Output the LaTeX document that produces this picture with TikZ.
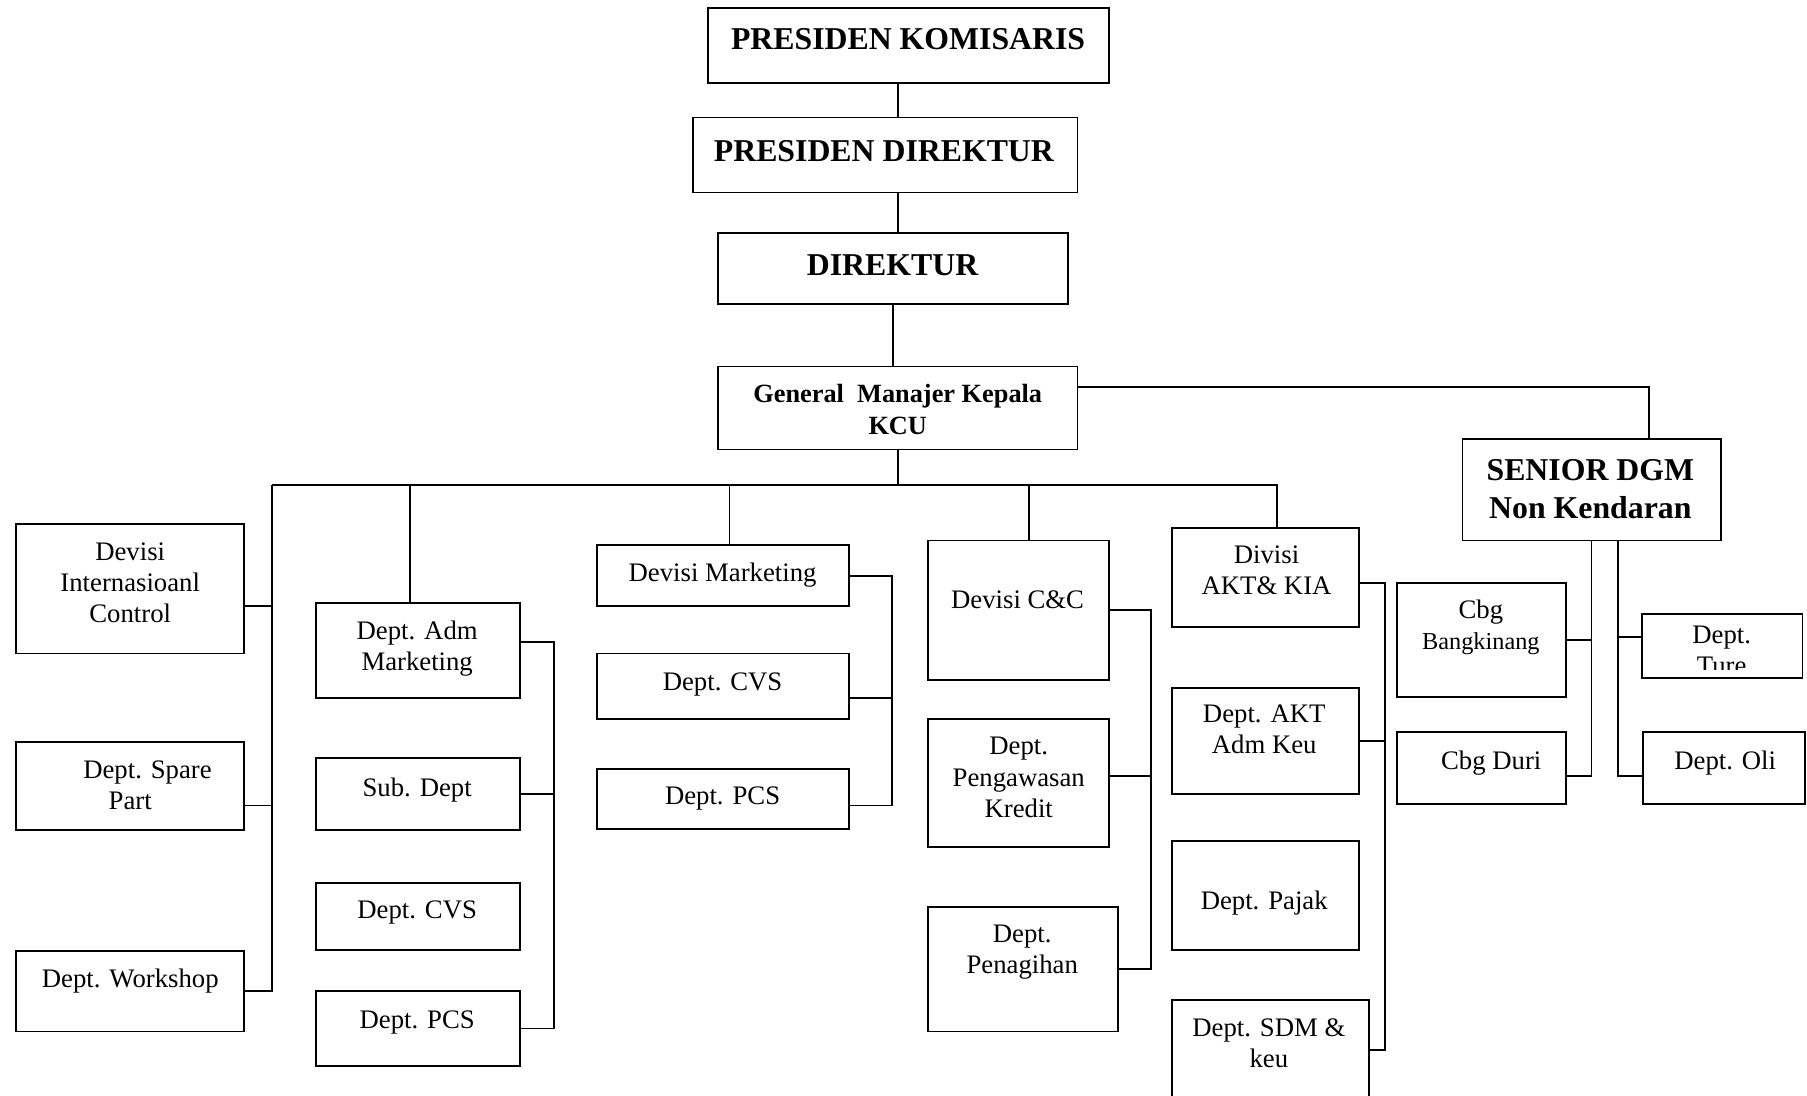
\documentclass[tikz,border=0pt]{standalone}
\usepackage{fontspec}
\setmainfont{Liberation Serif}
\usepackage{tikz}

\begin{document}
\begin{tikzpicture}[x=0.02cm, y=-0.02cm, line width=0.9pt]
% Box style
\tikzset{
    box/.style 2 args={draw, minimum width=#1*0.02cm, minimum height=#2*0.02cm, inner sep=0pt},
    txt/.style={font=\fontsize{13.2}{15.4}\selectfont, align=center, anchor=north, inner sep=0pt},
    ttl/.style={font=\fontsize{15.7}{18.7}\selectfont\bfseries, align=center, anchor=north, inner sep=0pt},
    gmtxt/.style={font=\fontsize{13}{15.4}\selectfont\bfseries, align=center, anchor=north, inner sep=0pt}
}
\clip (0,0) rectangle (1568,951);
% Top boxes
\node[box={348}{65}] (kom) at (788,39.5){};
\node[ttl] (kom-t) at (788,24){PRESIDEN KOMISARIS};
\node[box={334}{65}] (pdir) at (768,134.5){};
\node[ttl] (pdir-t) at (767,121){PRESIDEN DIREKTUR};
\node[box={304}{62}] (dir) at (775,233){};
\node[ttl] (dir-t) at (774.5,220){DIREKTUR};
\node[box={312}{72}] (gm) at (779,354){};
\node[gmtxt] (gm-t) at (779,333){General\ \ Manajer Kepala\\KCU};
\node[box={224}{88}] (sdgm) at (1381,425){};
\node[ttl] (sdgm-t) at (1380,398){SENIOR DGM\\Non Kendaran};
% Column 1
\node[box={198}{112}] (dic) at (113,511){};
\node[txt] (dic-t) at (113,470){Devisi\\Internasioanl\\Control};
\node[box={198}{76}] (spare) at (113,682){};
\node[txt] (spare-t) at (113,659){\hspace*{0.6cm}Dept. Spare\\Part};
\node[box={198}{70}] (work) at (113,860){};
\node[txt] (work-t) at (113,840){Dept. Workshop};
% Column 2
\node[box={177}{83}] (adm) at (362.5,564.5){};
\node[txt] (adm-t) at (362,538){Dept. Adm\\Marketing};
\node[box={177}{62}] (sub) at (362.5,689){};
\node[txt] (sub-t) at (362,674){Sub. Dept};
\node[box={177}{58}] (cvsa) at (362.5,795){};
\node[txt] (cvsa-t) at (362,781){Dept. CVS};
\node[box={177}{65}] (pcsa) at (362.5,892.5){};
\node[txt] (pcsa-t) at (362,876){Dept. PCS};
% Column 3
\node[box={219}{53}] (dmkt) at (627.5,499.5){};
\node[txt] (dmkt-t) at (627,488){Devisi Marketing};
\node[box={219}{57}] (cvsb) at (627.5,595.5){};
\node[txt] (cvsb-t) at (627,583){Dept. CVS};
\node[box={219}{52}] (pcsb) at (627.5,693){};
\node[txt] (pcsb-t) at (627,682){Dept. PCS};
% Column 4
\node[box={157}{121}] (dcc) at (883.5,529.5){};
\node[txt] (dcc-t) at (883,512){Devisi C\&C};
\node[box={157}{111}] (kred) at (883.5,679.5){};
\node[txt] (kred-t) at (884,639){Dept.\\Pengawasan\\Kredit};
\node[box={165}{108}] (tagih) at (887.5,841){};
\node[txt] (tagih-t) at (887,802){Dept.\\Penagihan};
% Column 5
\node[box={162}{86}] (dakt) at (1098,501){};
\node[txt] (dakt-t) at (1099,473){Divisi\\AKT\& KIA};
\node[box={162}{92}] (aktk) at (1098,643){};
\node[txt] (aktk-t) at (1097,611){Dept. AKT\\Adm Keu};
\node[box={162}{94}] (pajak) at (1098,777){};
\node[txt] (pajak-t) at (1097,772){Dept. Pajak};
\node[box={171}{112}] (sdm) at (1102.5,924){};
\node[txt] (sdm-t) at (1101,883){Dept. SDM \&\\keu};
% Senior DGM group
\node[box={147}{99}] (bkn) at (1285.5,555.5){};
\node[txt] (bkn-t) at (1285,520){Cbg\\{\fontsize{12}{14.8}\selectfont Bangkinang}};
\node[box={147}{63}] (duri) at (1285.5,666.5){};
\node[txt] (duri-t) at (1294,651){Cbg Duri};
\node[box={139}{55}] (ture) at (1494.5,560.5){};
\begin{scope}
\clip (ture.north west) rectangle ([yshift=0.16cm]ture.south east);
\node[txt] (ture-t) at (1494,542){Dept.\\Ture};
\end{scope}
\node[box={140}{63}] (oli) at (1496,666.5){};
\node[txt] (oli-t) at (1497,651){Dept. Oli};
% Top links
\draw (kom.south -| gm.north) -- (pdir.north -| gm.north);
\draw (pdir.south -| gm.north) -- (dir.north -| gm.north);
\draw (dir.south) -- (dir.south |- gm.north);
\draw ([yshift=0.36cm]gm.east) -| ([xshift=1cm]sdgm.north);
% Bus
\coordinate (busL) at (236,421);
\coordinate (busR) at (1108,421);
\draw (gm.south) -- (gm.south |- busL);
\draw (busL) -- (busR) -- (busR |- dakt.north);
\draw (busL) |- (work.east);
\draw ([yshift=-0.3cm]dic.east) -- ++(24,0);
\draw ([yshift=-0.34cm]spare.east) -- ++(24,0);
\draw ([xshift=-0.13cm]adm.north) -- ++(0,-102);
\draw ([xshift=0.11cm]dmkt.north) -- ++(0,-52);
\draw ([xshift=0.19cm]dcc.north) -- ++(0,-48);
% Group links
\draw ([yshift=0.15cm]adm.east) -- ++(29,0) |- (pcsa.east);
\draw (sub.east) -- ++(29,0);
\draw (dmkt.east) -- ++(36,0) |- ([yshift=-0.12cm]pcsb.east);
\draw ([yshift=-0.21cm]cvsb.east) -- ++(36,0);
\draw (dcc.east) -- ++(36,0) |- (tagih.east);
\draw ([yshift=0.13cm]kred.east) -- ++(36,0);
\draw ([yshift=-0.1cm]dakt.east) -- ++(22,0) |- ([yshift=0.26cm]sdm.east);
\draw (aktk.east) -- ++(22,0);
\draw (sdgm.south) |- ([yshift=-0.13cm]duri.east);
\draw (bkn.east) -- (bkn.east -| sdgm.south);
\draw ([xshift=0.46cm]sdgm.south) |- ([yshift=-0.13cm]oli.west);
\draw ([yshift=0.15cm]ture.west) -- ++(-21,0);
\end{tikzpicture}
\end{document}
